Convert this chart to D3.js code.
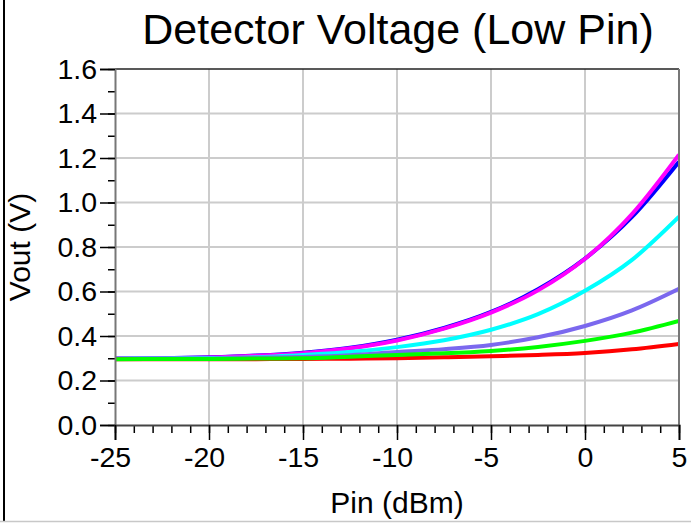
<!DOCTYPE html>
<html>
<head>
<meta charset="utf-8">
<script src="https://cdn.jsdelivr.net/npm/d3@7"></script>
<style>
  html, body { margin: 0; padding: 0; background: #fff; }
  svg { display: block; }
  text { font-family: "Liberation Sans", Arial, sans-serif; fill: #000; }
</style>
</head>
<body>
<svg id="chart" width="691" height="523"></svg>
<script>
// ---- data ----
const pin = [-25, -22.5, -20, -17.5, -15, -12.5, -10, -7.5, -5, -2.5, 0, 2.5, 5];
const blueV    = [0.299, 0.300, 0.304, 0.312, 0.325, 0.347, 0.383, 0.436, 0.508, 0.610, 0.748, 0.935, 1.183];
const magentaV = [0.299, 0.300, 0.303, 0.311, 0.323, 0.345, 0.380, 0.433, 0.505, 0.605, 0.747, 0.948, 1.215];
const cyanV    = [0.298, 0.299, 0.301, 0.305, 0.315, 0.328, 0.350, 0.381, 0.428, 0.498, 0.603, 0.742, 0.936];
const slateV   = [0.297, 0.298, 0.299, 0.302, 0.306, 0.314, 0.328, 0.341, 0.360, 0.394, 0.445, 0.515, 0.612];
const greenV   = [0.296, 0.297, 0.297, 0.299, 0.300, 0.307, 0.315, 0.322, 0.333, 0.351, 0.378, 0.415, 0.468];
const redV     = [0.295, 0.295, 0.296, 0.296, 0.297, 0.298, 0.300, 0.304, 0.309, 0.315, 0.324, 0.340, 0.364];

const seriesNames  = ["blue", "magenta", "cyan", "slate", "red", "green"];
const seriesValues = [blueV, magentaV, cyanV, slateV, redV, greenV];
const seriesColors = ["#0000ff", "#ff00ff", "#00ffff", "#7b68ee", "#ff0000", "#00ff00"];

const xTicks = [-25, -20, -15, -10, -5, 0, 5];
const yTicks = [0.0, 0.2, 0.4, 0.6, 0.8, 1.0, 1.2, 1.4, 1.6];
const xMinor = d3.range(-25, 5.001, 1);
const yMinor = d3.range(0, 1.6001, 0.1);

const titleText = "Detector Voltage (Low Pin)";
const xLabel = "Pin (dBm)";
const yLabel = "Vout (V)";

// ---- layout ----
const L = 115, R = 679, T = 69, B = 425;
const svg = d3.select("#chart");

const x = d3.scaleLinear().domain([-25, 5]).range([L, R]);
const y = d3.scaleLinear().domain([0, 1.6]).range([B, T]);

// outer frame (left & bottom)
svg.append("line").attr("x1", 4).attr("x2", 4).attr("y1", 0).attr("y2", 522)
  .attr("stroke", "#000").attr("stroke-width", 2);
svg.append("line").attr("x1", 0).attr("x2", 691).attr("y1", 521.5).attr("y2", 521.5)
  .attr("stroke", "#c8c8c8").attr("stroke-width", 1.5);

// grid
const grid = svg.append("g");
grid.selectAll(".gx").data(xTicks.slice(1, -1)).enter().append("line")
  .attr("x1", d => x(d)).attr("x2", d => x(d)).attr("y1", T).attr("y2", B)
  .attr("stroke", "#cccccc").attr("stroke-width", 2);
grid.selectAll(".gy").data(yTicks.slice(1, -1)).enter().append("line")
  .attr("x1", L).attr("x2", R).attr("y1", d => y(d)).attr("y2", d => y(d))
  .attr("stroke", "#cccccc").attr("stroke-width", 2);

// curves
svg.append("clipPath").attr("id", "clip").append("rect")
  .attr("x", L).attr("y", T).attr("width", R - L).attr("height", B - T);
const line = d3.line().x(d => x(d[0])).y(d => y(d[1])).curve(d3.curveMonotoneX);
const curves = svg.append("g").attr("clip-path", "url(#clip)");
seriesValues.forEach((vals, i) => {
  curves.append("path")
    .datum(pin.map((p, j) => [p, vals[j]]))
    .attr("d", line)
    .attr("fill", "none")
    .attr("stroke", seriesColors[i])
    .attr("stroke-width", 4)
    .attr("stroke-linejoin", "round");
});

// frame lines: top and right
svg.append("line").attr("x1", L).attr("x2", R).attr("y1", T).attr("y2", T)
  .attr("stroke", "#222").attr("stroke-width", 1.5);
svg.append("line").attr("x1", R).attr("x2", R).attr("y1", T).attr("y2", B)
  .attr("stroke", "#777").attr("stroke-width", 2);

// y axis minor ticks
const yMinorAxis = d3.axisLeft(y).tickValues(yMinor).tickSize(7).tickFormat("");
svg.append("g").attr("transform", `translate(${L},0)`).call(yMinorAxis)
  .call(g => g.select(".domain").remove())
  .call(g => g.selectAll(".tick line").attr("stroke", "#000").attr("stroke-width", 1.5));
// y axis major
const yAxis = d3.axisLeft(y).tickValues(yTicks).tickSize(15).tickPadding(3).tickFormat(d3.format(".1f"));
svg.append("g").attr("transform", `translate(${L},0)`).call(yAxis)
  .call(g => g.select(".domain").attr("stroke", "#777").attr("stroke-width", 2))
  .call(g => g.selectAll(".tick line").attr("stroke", "#000").attr("stroke-width", 1.5))
  .call(g => g.selectAll(".tick text").attr("font-size", 28.5)
    .attr("font-family", "Liberation Sans, Arial, sans-serif").attr("fill", "#000"));

// x axis minor ticks
const xMinorAxis = d3.axisBottom(x).tickValues(xMinor).tickSize(8).tickFormat("");
svg.append("g").attr("transform", `translate(0,${B})`).call(xMinorAxis)
  .call(g => g.select(".domain").remove())
  .call(g => g.selectAll(".tick line").attr("stroke", "#000").attr("stroke-width", 1.5));
// x axis major
const xAxis = d3.axisBottom(x).tickValues(xTicks).tickSize(15).tickPadding(7).tickFormat(d3.format("d"));
svg.append("g").attr("transform", `translate(0,${B})`).call(xAxis)
  .call(g => g.select(".domain").attr("stroke", "#444").attr("stroke-width", 2))
  .call(g => g.selectAll(".tick line").attr("stroke", "#000").attr("stroke-width", 1.5))
  .call(g => g.selectAll(".tick text").attr("font-size", 28.5)
    .attr("font-family", "Liberation Sans, Arial, sans-serif").attr("fill", "#000")
    .text(d => d < 0 ? "-" + Math.abs(d) : String(d))
    .attr("dx", d => d < 0 ? -5 : 0));

// title
svg.append("text").attr("x", (L + R) / 2 + 1).attr("y", 44).attr("text-anchor", "middle")
  .attr("font-size", 43).text(titleText);

// axis labels
svg.append("text").attr("x", (L + R) / 2).attr("y", 513).attr("text-anchor", "middle")
  .attr("font-size", 30).text(xLabel);
svg.append("text").attr("transform", `translate(30,${(T + B) / 2}) rotate(-90)`)
  .attr("text-anchor", "middle").attr("font-size", 30).text(yLabel);
</script>
</body>
</html>
